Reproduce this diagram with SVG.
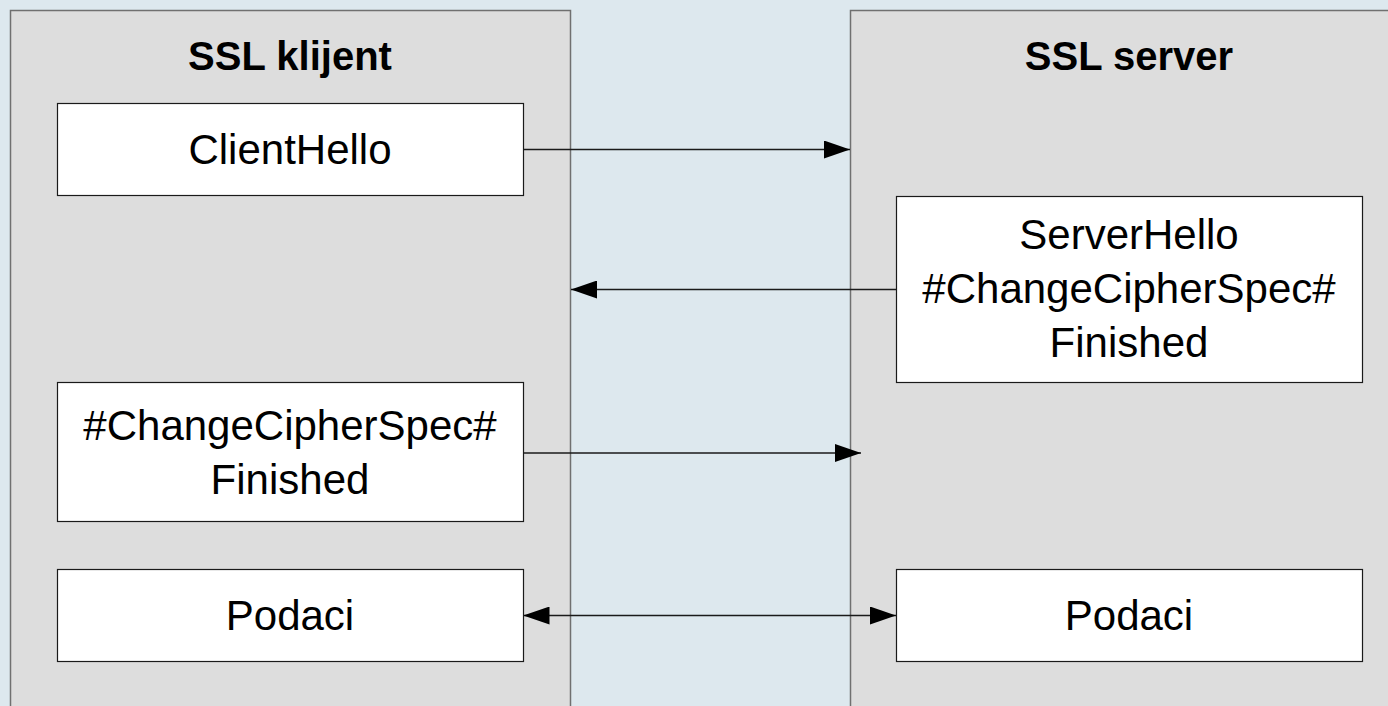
<svg xmlns="http://www.w3.org/2000/svg" width="1388" height="706" viewBox="0 0 1388 706">
<style>
.panel{fill:#dddddd;stroke:#707070;stroke-width:1.5}
.box{fill:#ffffff;stroke:#1a1a1a;stroke-width:1.2}
.title{font-family:"Liberation Sans",Arial,sans-serif;font-weight:bold;font-size:40px;fill:#000;text-anchor:middle}
.lbl{font-family:"Liberation Sans",Arial,sans-serif;font-size:42px;fill:#000;text-anchor:middle}
.conn{stroke:#1a1a1a;stroke-width:1.5;fill:none}
</style>
<defs>
<marker id="ah" viewBox="0 0 26 18" refX="26" refY="9" markerWidth="26" markerHeight="18" markerUnits="userSpaceOnUse" orient="auto-start-reverse">
<path d="M0,0 L26,9 L0,18 Z" fill="#000"/>
</marker>
</defs>
<rect x="0" y="0" width="1388" height="706" fill="#dde8ee"/>
<g id="client">
<rect class="panel" x="10.5" y="10.5" width="560" height="710"/>
<text class="title" x="290" y="70">SSL klijent</text>
</g>
<g id="server">
<rect class="panel" x="850.5" y="10.5" width="560" height="710"/>
<text class="title" x="1129" y="70">SSL server</text>
</g>
<g id="clientHello">
<rect class="box" x="57.5" y="103.5" width="466" height="92"/>
<text class="lbl" x="290" y="164">ClientHello</text>
</g>
<g id="serverHello">
<rect class="box" x="896.5" y="196.5" width="466" height="186"/>
<text class="lbl" x="1129" y="249">ServerHello</text>
<text class="lbl" x="1129" y="303">#ChangeCipherSpec#</text>
<text class="lbl" x="1129" y="357">Finished</text>
</g>
<g id="clientFinished">
<rect class="box" x="57.5" y="382.5" width="466" height="139"/>
<text class="lbl" x="290" y="440">#ChangeCipherSpec#</text>
<text class="lbl" x="290" y="494">Finished</text>
</g>
<g id="podaciClient">
<rect class="box" x="57.5" y="569.5" width="466" height="92"/>
<text class="lbl" x="290" y="630">Podaci</text>
</g>
<g id="podaciServer">
<rect class="box" x="896.5" y="569.5" width="466" height="92"/>
<text class="lbl" x="1129" y="630">Podaci</text>
</g>
<g id="connectors">
<line class="conn" x1="523" y1="149.5" x2="850" y2="149.5" marker-end="url(#ah)"/>
<line class="conn" x1="896" y1="289.5" x2="571" y2="289.5" marker-end="url(#ah)"/>
<line class="conn" x1="523" y1="453" x2="861" y2="453" marker-end="url(#ah)"/>
<line class="conn" x1="523.5" y1="615.5" x2="896" y2="615.5" marker-start="url(#ah)" marker-end="url(#ah)"/>
</g>
</svg>
